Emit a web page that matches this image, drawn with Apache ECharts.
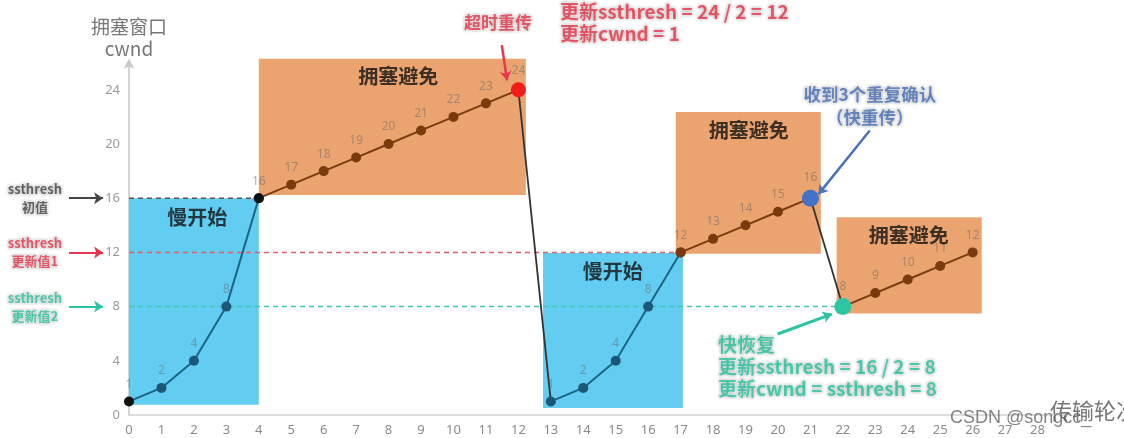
<!DOCTYPE html>
<html>
<head>
<meta charset="utf-8">
<script src="https://cdn.jsdelivr.net/npm/echarts@6/dist/echarts.min.js"></script>
<style>html,body{margin:0;padding:0;background:#fff}#c{width:1124px;height:438px}</style>
</head>
<body>
<div id="c"></div>
<script>
// ---- data ----
const ss1Rounds = [0, 1, 2, 3, 4];
const ss1Cwnd   = [1, 2, 4, 8, 16];
const ca1Rounds = [4, 5, 6, 7, 8, 9, 10, 11, 12];
const ca1Cwnd   = [16, 17, 18, 19, 20, 21, 22, 23, 24];
const drop1Rounds = [12, 13];
const drop1Cwnd   = [24, 1];
const ss2Rounds = [13, 14, 15, 16, 17];
const ss2Cwnd   = [1, 2, 4, 8, 12];
const ca2Rounds = [17, 18, 19, 20, 21];
const ca2Cwnd   = [12, 13, 14, 15, 16];
const drop2Rounds = [21, 22];
const drop2Cwnd   = [16, 8];
const ca3Rounds = [22, 23, 24, 25, 26];
const ca3Cwnd   = [8, 9, 10, 11, 12];
// phase regions: [startRound, endRound, lowCwnd, highCwnd]
const slowStartRegions = [[0, 4, 0.75, 16], [12.76, 17.07, 0.52, 11.96]];
const avoidRegions = [[4, 12.23, 16.24, 26.3], [16.85, 21.32, 11.9, 22.36], [21.81, 26.28, 7.5, 14.6]];
const ssthreshInit = 16, ssthreshUpd1 = 12, ssthreshUpd2 = 8;
const xTicks = [0,1,2,3,4,5,6,7,8,9,10,11,12,13,14,15,16,17,18,19,20,21,22,23,24,25,26,27,28];
const yTicks = [0, 4, 8, 12, 16, 20, 24];

const pts = (xs, ys) => xs.map((x, i) => [x, ys[i]]);
const CJK = '"Noto Sans CJK SC", "Noto Sans", sans-serif';
const lblStyle = {show: true, position: 'top', distance: 6, fontSize: 12, color: 'rgba(105,105,105,0.55)', fontFamily: 'Noto Sans, sans-serif'};

function ssData(xs, ys, skipLastLabel) {
  return pts(xs, ys).map((p, i) => {
    const d = {value: p};
    if (skipLastLabel && i === xs.length - 1) d.label = {show: false};
    return d;
  });
}

const SS_COLOR = '#1c6484', CA_COLOR = '#7a3c12';

const s1 = ssData(ss1Rounds, ss1Cwnd, true);
s1[0].itemStyle = {color: '#111'};
s1[4].itemStyle = {color: '#111'};
const s2 = ssData(ss2Rounds, ss2Cwnd, true);
const c1 = ssData(ca1Rounds, ca1Cwnd, false);
c1[0].itemStyle = {color: '#111'};
c1[8].itemStyle = {color: '#f01c1c'}; c1[8].symbolSize = 15;
const c2 = ssData(ca2Rounds, ca2Cwnd, false);
c2[4].itemStyle = {color: '#4472c4'}; c2[4].symbolSize = 17;
const c3 = ssData(ca3Rounds, ca3Cwnd, false);
c3[0].itemStyle = {color: '#2cc6a2'}; c3[0].symbolSize = 17;

function boxSeries(regions, color) {
  return {
    type: 'custom', z: 1, silent: true,
    data: regions,
    renderItem: (params, api) => {
      const a = api.coord([api.value(0), api.value(3)]);
      const b = api.coord([api.value(1), api.value(2)]);
      return {type: 'rect', shape: {x: a[0], y: a[1], width: b[0] - a[0], height: b[1] - a[1]}, style: {fill: color}};
    },
    clip: false
  };
}

function note(x, y, text, style) {
  return {value: [x, y], label: Object.assign({show: true, position: 'inside', formatter: text, fontFamily: CJK, fontWeight: 'bold'}, style)};
}
const glow = {textShadowColor: 'rgba(0,0,0,0.28)', textShadowBlur: 3, textBorderColor: '#fff', textBorderWidth: 1.5};
const RED = '#e8364a', BLUE = '#4a72b8', TEAL = '#2bc4a0', DARK = '#454545';

const notes = [
  note(8.3, 25.0, '拥塞避免', {fontSize: 20, color: '#111'}),
  note(19.1, 21.03, '拥塞避免', {fontSize: 20, color: '#111'}),
  note(24.03, 13.28, '拥塞避免', {fontSize: 20, color: '#111'}),
  note(2.1, 14.55, '慢开始', {fontSize: 20, color: '#111'}),
  note(14.91, 10.63, '慢开始', {fontSize: 20, color: '#111'}),
  note(11.37, 29.0, '超时重传', Object.assign({fontSize: 17, color: RED}, glow)),
  note(13.28, 28.93, '更新ssthresh = 24 / 2 = 12\n更新cwnd = 1', Object.assign({fontSize: 19, color: RED, align: 'left', lineHeight: 22}, glow)),
  note(22.83, 22.8, '收到3个重复确认\n（快重传）', Object.assign({fontSize: 17.5, color: BLUE, lineHeight: 23}, glow)),
  note(18.15, 3.54, '快恢复\n更新ssthresh = 16 / 2 = 8\n更新cwnd = ssthresh = 8', Object.assign({fontSize: 19, color: TEAL, align: 'left', lineHeight: 22}, glow)),
  note(-2.9, ssthreshInit, 'ssthresh\n初值', Object.assign({fontSize: 13, color: DARK, lineHeight: 18}, glow)),
  note(-2.9, ssthreshUpd1, 'ssthresh\n更新值1', Object.assign({fontSize: 13, color: RED, lineHeight: 18}, glow)),
  note(-2.9, ssthreshUpd2, 'ssthresh\n更新值2', Object.assign({fontSize: 13, color: TEAL, lineHeight: 18}, glow))
];

function arrow(p1, p2, color, w) {
  return {coords: [p1, p2], lineStyle: {color: color, width: w || 2, opacity: 1}};
}
const arrows = [
  arrow([-1.85, ssthreshInit], [-0.8, ssthreshInit], DARK),
  arrow([-1.85, ssthreshUpd1], [-0.8, ssthreshUpd1], RED),
  arrow([-1.85, ssthreshUpd2], [-0.8, ssthreshUpd2], TEAL),
  arrow([11.49, 27.3], [11.65, 24.7], RED, 2.5),
  arrow([22.83, 21.0], [21.25, 16.3], BLUE, 2.5),
  arrow([19.99, 5.98], [21.66, 7.45], TEAL, 3)
];

function lineSeries(data, color, symColor, z) {
  return {type: 'line', data: data, z: z || 4, symbol: 'circle', symbolSize: 10,
    lineStyle: {color: color, width: 2}, itemStyle: {color: symColor || color},
    label: lblStyle, animation: false};
}
function dashed(y, x1, color) {
  return {type: 'line', data: [[0, y], [x1, y]], symbol: 'none', z: 3,
    lineStyle: {color: color, width: 1.5, type: [5, 4]}, animation: false};
}

const chart = echarts.init(document.getElementById('c'));
chart.setOption({
  animation: false,
  grid: {left: 129, right: 54, top: 62.7, bottom: 23, outerBoundsMode: 'none', containLabel: false},
  xAxis: {
    type: 'value', min: 0, max: 29, interval: 1,
    name: '传输轮次', nameLocation: 'end', nameGap: -20,
    nameTextStyle: {fontSize: 22, color: '#777', fontFamily: CJK, verticalAlign: 'bottom', align: 'left', padding: [0, 0, -7, 0]},
    axisLine: {lineStyle: {color: '#d4d4d4', width: 1.5}},
    axisTick: {show: false}, splitLine: {show: false},
    axisLabel: {color: '#8a8a8a', fontSize: 13, margin: 9, fontFamily: 'Noto Sans, sans-serif',
      formatter: v => xTicks.indexOf(v) >= 0 ? String(v) : ''}
  },
  yAxis: {
    type: 'value', min: 0, max: 26, interval: 4,
    name: '拥塞窗口\ncwnd', nameLocation: 'end', nameGap: 3,
    nameTextStyle: {fontSize: 19, color: '#777', fontFamily: CJK, lineHeight: 22, align: 'center'},
    axisLine: {show: true, symbol: ['none', 'arrow'], symbolSize: [8, 10], symbolOffset: [0, 4], lineStyle: {color: '#c8c8c8', width: 1.5}},
    axisTick: {show: false}, splitLine: {show: false},
    axisLabel: {color: '#9a9a9a', fontSize: 13, margin: 9, fontFamily: 'Noto Sans, sans-serif',
      formatter: v => yTicks.indexOf(v) >= 0 ? String(v) : ''}
  },
  graphic: [{type: 'text', left: 950, bottom: 11, z: 100, style: {text: 'CSDN @songcc_', fontSize: 18, fill: 'rgba(90,90,90,0.75)', fontFamily: 'Liberation Sans, sans-serif'}}],
  series: [
    boxSeries(slowStartRegions, '#63ccf1'),
    boxSeries(avoidRegions, '#eba470'),
    dashed(ssthreshInit, 4, '#555'),
    dashed(ssthreshUpd1, 17, '#e0606a'),
    dashed(ssthreshUpd2, 22, '#3cc9aa'),
    lineSeries(s1, SS_COLOR, '#1b5878'),
    lineSeries(s2, SS_COLOR, '#1b5878'),
    {type: 'line', data: pts(drop1Rounds, drop1Cwnd), symbol: 'none', z: 4, lineStyle: {color: '#333', width: 1.8}},
    {type: 'line', data: pts(drop2Rounds, drop2Cwnd), symbol: 'none', z: 4, lineStyle: {color: '#333', width: 1.8}},
    lineSeries(c1, CA_COLOR, '#7a3a0e', 5),
    lineSeries(c2, CA_COLOR, '#7a3a0e', 5),
    lineSeries(c3, CA_COLOR, '#7a3a0e', 5),
    {type: 'lines', coordinateSystem: 'cartesian2d', z: 6, clip: false, symbol: ['none', 'arrow'], symbolSize: 9, data: arrows, animation: false},
    {type: 'scatter', symbolSize: 0, z: 7, clip: false, silent: true, data: notes, animation: false}
  ]
});
// safety: keep the round-axis scale fixed (26 rounds span 844px from the origin)
let gridRight = 54;
for (let k = 0; k < 3; k++) {
  const span = chart.convertToPixel({gridIndex: 0}, [26, 0])[0] - chart.convertToPixel({gridIndex: 0}, [0, 0])[0];
  if (Math.abs(span - 844) < 0.5) break;
  gridRight -= (844 - span) * 29 / 26;
  chart.setOption({grid: {right: gridRight}});
}
</script>
</body>
</html>
